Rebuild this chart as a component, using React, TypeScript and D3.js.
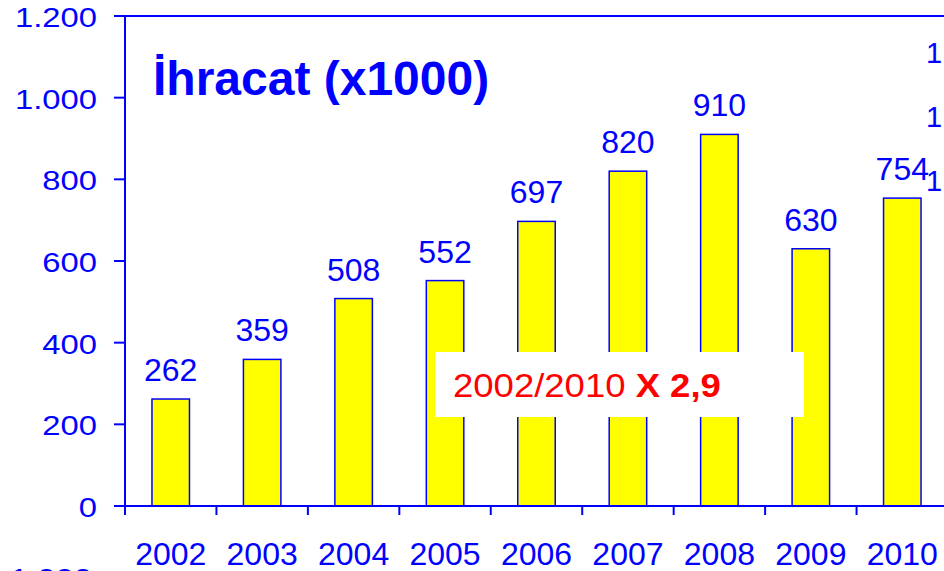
import React from 'react';
import * as d3 from 'd3';

// data
const years = ['2002', '2003', '2004', '2005', '2006', '2007', '2008', '2009', '2010'];
const exports = [262, 359, 508, 552, 697, 820, 910, 630, 754];
const yTicks = [0, 200, 400, 600, 800, 1000, 1200];
const title = 'İhracat (x1000)';
const noteRegular = '2002/2010 ';
const noteBold = 'X 2,9';
// stray labels from a neighbouring chart, only their first digit shows
const sideLabels = ['1', '1', '1'];
const bottomLabel = '1.000';

const BLUE = '#0000ff';
const FONT = '"Liberation Sans", Arial, sans-serif';

const trFormat = d3.formatLocale({ decimal: ',', thousands: '.', grouping: [3], currency: ['', ''] }).format(',');

const App = () => {
  const width = 944;
  const height = 571;
  const margin = { top: 16, right: -4, bottom: 65, left: 125 };

  const x = d3.scaleBand<string>()
    .domain(years)
    .range([margin.left, width - margin.right])
    .padding(0);
  const barW = x.bandwidth() * 0.41;

  const y = d3.scaleLinear()
    .domain([0, 1200])
    .range([height - margin.bottom, margin.top]);

  const y0 = y(0);
  const tickXs = years.map(d => x(d)!).concat([x(years[years.length - 1])! + x.bandwidth()]);

  return (
    <svg width={width} height={height} style={{ position: 'absolute', left: 0, top: 0, display: 'block', background: '#fff' }} fontFamily={FONT}>
      {/* bars */}
      <g>
        {years.map((d, i) => (
          <rect key={d}
            x={x(d)! + (x.bandwidth() - barW) / 2}
            y={y(exports[i])}
            width={barW}
            height={y0 - y(exports[i])}
            fill="#ffff00" stroke={BLUE} strokeWidth={1.5} />
        ))}
      </g>

      {/* value labels */}
      <g fill={BLUE} fontSize={32} textAnchor="middle">
        {years.map((d, i) => (
          <text key={d} x={x(d)! + x.bandwidth() / 2} y={y(exports[i]) - 18}>{exports[i]}</text>
        ))}
      </g>

      {/* axes */}
      <g stroke={BLUE} strokeWidth={2} fill="none">
        <line x1={margin.left - 11} x2={width} y1={y(1200)} y2={y(1200)} />
        <line x1={margin.left} x2={margin.left} y1={y(1200)} y2={y0} />
        <line x1={margin.left - 11} x2={width} y1={y0} y2={y0} />
        {yTicks.map(t => (
          <line key={t} x1={margin.left - 11} x2={margin.left} y1={y(t)} y2={y(t)} />
        ))}
        {tickXs.map((tx, i) => (
          <line key={i} x1={tx} x2={tx} y1={y0} y2={y0 + 9} />
        ))}
      </g>

      {/* y tick labels */}
      <g fill={BLUE} fontSize={28} textAnchor="end">
        {yTicks.map(t => (
          <text key={t} transform={`translate(97,${y(t) + 11}) scale(1.17,1)`}>{trFormat(t)}</text>
        ))}
      </g>

      {/* x tick labels */}
      <g fill={BLUE} fontSize={32} textAnchor="middle">
        {years.map(d => (
          <text key={d} x={x(d)! + x.bandwidth() / 2} y={565}>{d}</text>
        ))}
      </g>

      {/* title */}
      <text x={153} y={95} fill={BLUE} fontSize={48} fontWeight="bold">{title}</text>

      {/* growth note */}
      <rect x={435} y={352} width={369} height={65} fill="#fff" />
      <text transform="translate(453,397) scale(1.09,1)" fill="#ff0000" fontSize={33.5}>
        <tspan>{noteRegular}</tspan>
        <tspan fontWeight="bold">{noteBold}</tspan>
      </text>

      {/* cut-off neighbours */}
      <g fill={BLUE} fontSize={29}>
        {sideLabels.map((s, i) => (
          <text key={i} x={926} y={63 + i * 64}>{s}</text>
        ))}
      </g>
      <text transform="translate(10,588) scale(1.17,1)" fill={BLUE} fontSize={28}>{bottomLabel}</text>
    </svg>
  );
};

export default App;
